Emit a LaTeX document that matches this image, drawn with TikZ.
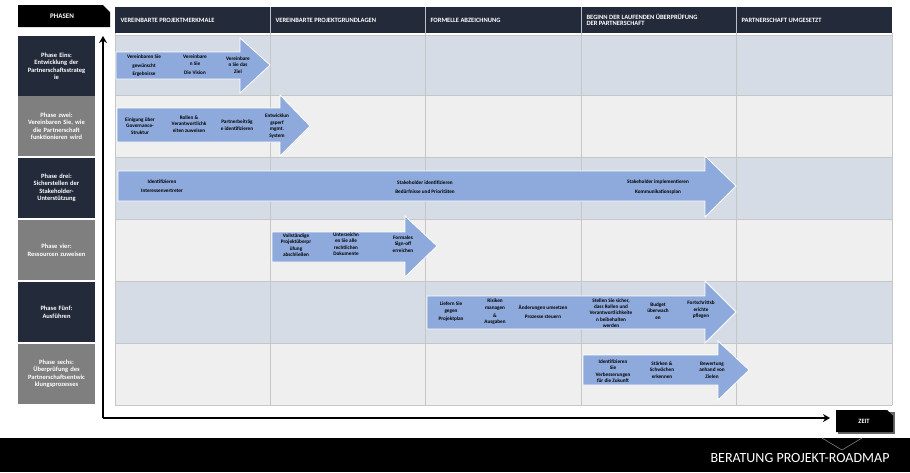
\documentclass[tikz,border=0pt]{standalone}
\usepackage{fontspec}
\setmainfont{Carlito}
\usetikzlibrary{arrows.meta}
\begin{document}
\begin{tikzpicture}[x=1pt,y=-1pt,
 hdrtxt/.style={anchor=west,text=white,font=\bfseries\fontsize{6.5}{7.5}\selectfont,align=left},
 phase/.style={anchor=center,text=white,font=\bfseries\fontsize{6.5}{7.5}\selectfont,align=center,text width=76pt},
 arr/.style={fill=arrblue,draw=white,line width=0.8pt},
 atxt/.style={font=\bfseries\fontsize{5.2}{6.4}\selectfont,align=center,text=black,inner sep=0pt}]
\definecolor{navy}{HTML}{232A3A}
\definecolor{rowa}{HTML}{D6DCE6}
\definecolor{rowb}{HTML}{EFEFEF}
\definecolor{pgray}{HTML}{7F7F7F}
\definecolor{arrblue}{HTML}{8EA9DB}
\useasboundingbox (0,0) rectangle (910,472);
\fill[white] (0,0) rectangle (910,472);
% rows
\foreach \y/\c in {35/rowa,95/rowb,157/rowa,219/rowb,281/rowa,343/rowb}{
 \fill[\c] (115,\y) rectangle (892,\y+62);
}
\foreach \y in {35,95,157,219,281,343,405}{\draw[gray!45,line width=0.6pt] (115,\y) -- (892,\y);}
\foreach \x in {270,425,581,736}{\draw[gray!45,line width=0.6pt] (\x,33) -- (\x,405);}
\draw[gray!45] (115,33) -- (115,405) (892,33)--(892,405);
% header
\fill[navy] (115,7) rectangle (892,33);
\foreach \x in {270,425,581,736}{\draw[white!70!navy,line width=0.6pt] (\x,7) -- (\x,33);}
\node[hdrtxt] (h1) at (117,20) {VEREINBARTE PROJEKTMERKMALE};
\node[hdrtxt] (h2) at (272,20) {VEREINBARTE PROJEKTGRUNDLAGEN};
\node[hdrtxt] (h3) at (427,20) {FORMELLE ABZEICHNUNG};
\node[hdrtxt] (h4) at (583,20) {BEGINN DER LAUFENDEN ÜBERPRÜFUNG\\[-1pt]DER PARTNERSCHAFT};
\node[hdrtxt] (h5) at (738,20) {PARTNERSCHAFT UMGESETZT};
% PHASEN
\fill[black] (18,5) -- (103,5) -- (110,12) -- (110,27) -- (18,27) -- cycle;
\node[text=white,font=\bfseries\fontsize{7}{8}\selectfont] (ph) at (62,16) {PHASEN};
% phase boxes
\foreach \y/\c in {35/navy,95/pgray,157/navy,219/pgray,281/navy,343/pgray}{
 \fill[\c] (18,\y+1) rectangle (95,\y+61);
}
\node[phase] (p1) at (56.5,66) {Phase Eins:\\Entwicklung der\\Partnerschaftsstrateg\\ie};
\node[phase] (p2) at (56.5,126) {Phase zwei:\\Vereinbaren Sie, wie\\die Partnerschaft\\funktionieren wird};
\node[phase] (p3) at (56.5,188) {Phase drei:\\Sicherstellen der\\Stakeholder-\\Unterstützung};
\node[phase] (p4) at (56.5,250) {Phase vier:\\Ressourcen zuweisen};
\node[phase] (p5) at (56.5,312) {Phase Fünf:\\Ausführen};
\node[phase] (p6) at (56.5,374) {Phase sechs:\\Überprüfung des\\Partnerschaftsentwic\\klungsprozesses};
% axes
\coordinate (o) at (103,418);
\coordinate (top) at (103,36);
\coordinate (right) at (830,418);
\draw[line width=2.2pt,-{Stealth[length=7pt,width=8pt]}] (o) -- (top);
\draw[line width=2.2pt,-{Stealth[length=7pt,width=8pt]}] (o) -- (right);
% ZEIT
\fill[black!60] (838,412) rectangle (895,434);
\fill[black] (836,410) -- (887,410) -- (893,416) -- (893,432) -- (836,432) -- cycle;
\node[text=white,font=\bfseries\fontsize{6.5}{7.5}\selectfont] (zeit) at (864,421) {ZEIT};
% bottom band
\fill[black] (0,438) rectangle (910,472);
\draw[gray,line width=0.6pt] (822,438) -- (842,450) -- (862,438);
\node[anchor=east,text=white,font=\fontsize{14}{16}\selectfont] (title) at (893,458) {BERATUNG PROJEKT-ROADMAP};
% arrows
\draw[arr] (116,52) -- (240,52) -- (240,38) -- (270,65) -- (240,93) -- (240,79) -- (116,79) -- cycle;
\draw[arr] (117,108) -- (280,108) -- (280,95) -- (310,126) -- (280,156) -- (280,142) -- (117,142) -- cycle;
\draw[arr] (118,171) -- (705,171) -- (705,156) -- (736,186) -- (705,217) -- (705,201) -- (118,201) -- cycle;
\draw[arr] (272,232) -- (405,232) -- (405,216) -- (437,246) -- (405,277) -- (405,262) -- (272,262) -- cycle;
\draw[arr] (427,296) -- (705,296) -- (705,281) -- (736,312) -- (705,343) -- (705,329) -- (427,329) -- cycle;
\draw[arr] (583,355) -- (718,355) -- (718,341) -- (749,370) -- (718,400) -- (718,385) -- (583,385) -- cycle;
% arrow texts
\node[atxt] (a11) at (144,66) {Vereinbaren Sie\\[2pt]gewünscht\\[2pt]Ergebnisse};
\node[atxt] (a12) at (195,65) {Vereinbare\\n Sie\\[3pt]Die Vision};
\node[atxt] (a13) at (238,65) {Vereinbare\\n Sie das\\Ziel};
\node[atxt] (a21) at (140,126) {Einigung über\\Governance-\\Struktur};
\node[atxt] (a22) at (189,124) {Rollen \&\\Verantwortlichk\\eiten zuweisen};
\node[atxt] (a23) at (237,125) {Partnerbeiträg\\e identifizieren};
\node[atxt] (a24) at (277,126) {Entwicklun\\gsperf\\mgmt.\\System};
\node[atxt] (a31) at (162,186) {Identifizieren\\[3pt]Interessenvertreter};
\node[atxt] (a32) at (425,187) {Stakeholder identifizieren\\[3pt]Bedürfnisse und Prioritäten};
\node[atxt] (a33) at (658,187) {Stakeholder implementieren\\[3pt]Kommunikationsplan};
\node[atxt] (a41) at (296,245) {Vollständige\\Projektüberpr\\üfung\\abschließen};
\node[atxt] (a42) at (346,244) {Unterzeichn\\en Sie alle\\rechtlichen\\Dokumente};
\node[atxt] (a43) at (403,244) {Formales\\Sign-off\\erreichen};
\node[atxt] (a51) at (451,312) {Liefern Sie\\gegen\\[2pt]Projektplan};
\node[atxt] (a52) at (495,312) {Risiken\\managen\\[2pt]\&\\Ausgaben};
\node[atxt] (a53) at (543,312) {Änderungen umsetzen\\[3pt]Prozesse steuern};
\node[atxt] (a54) at (611,313) {Stellen Sie sicher,\\dass Rollen und\\Verantwortlichkeite\\n beibehalten\\werden};
\node[atxt] (a55) at (658,311) {Budget\\überwach\\en};
\node[atxt] (a56) at (701,310) {Fortschrittsb\\erichte\\pflegen};
\node[atxt] (a61) at (613,371) {Identifizieren\\Sie\\Verbesserungen\\für die Zukunft};
\node[atxt] (a62) at (662,370) {Stärken \&\\Schwächen\\erkennen};
\node[atxt] (a63) at (712,370) {Bewertung\\anhand von\\Zielen};
\end{tikzpicture}
\end{document}
